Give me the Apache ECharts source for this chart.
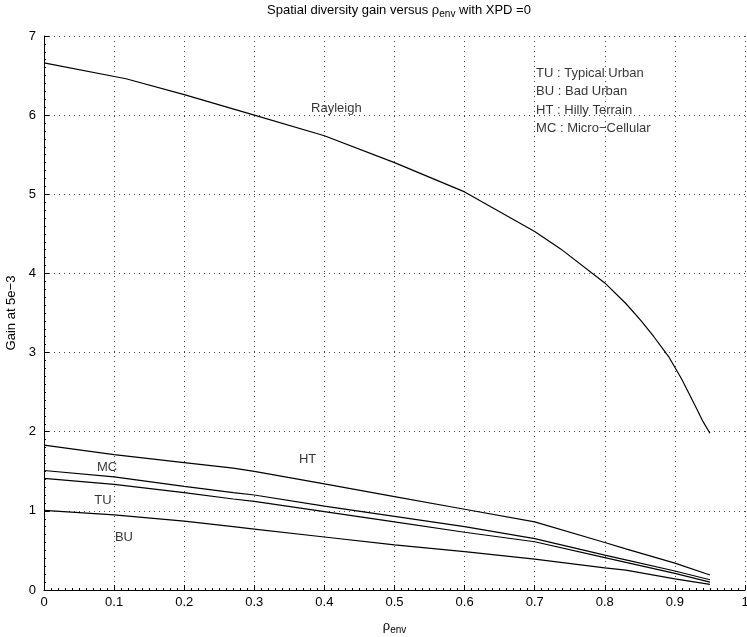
<!DOCTYPE html>
<html>
<head>
<meta charset="utf-8">
<script src="https://cdn.jsdelivr.net/npm/echarts@6/dist/echarts.min.js"></script>
<style>html,body{margin:0;padding:0;background:#fff}#c{width:747px;height:637px}</style>
</head>
<body>
<div id="c"></div>
<script>
// x positions and values
const rayleighX = [0, 0.117, 0.2, 0.3, 0.4, 0.5, 0.6, 0.7, 0.737, 0.8, 0.83, 0.851, 0.87, 0.891, 0.91, 0.93, 0.94, 0.95];
const rayleighY = [6.66, 6.46, 6.26, 6.0, 5.74, 5.40, 5.03, 4.53, 4.31, 3.88, 3.62, 3.41, 3.20, 2.95, 2.66, 2.31, 2.13, 1.98];

const lowX = [0, 0.1, 0.2, 0.27, 0.3, 0.4, 0.5, 0.6, 0.7, 0.8, 0.83, 0.9, 0.95];
const htY  = [1.83, 1.71, 1.61, 1.54, 1.50, 1.34, 1.18, 1.02, 0.86, 0.60, 0.52, 0.34, 0.19];
const mcY  = [1.51, 1.43, 1.31, 1.23, 1.20, 1.06, 0.93, 0.80, 0.65, 0.44, 0.38, 0.24, 0.13];
const tuY  = [1.41, 1.335, 1.23, 1.15, 1.12, 0.99, 0.86, 0.73, 0.61, 0.41, 0.35, 0.21, 0.10];
const buY  = [1.005, 0.95, 0.87, 0.80, 0.77, 0.67, 0.57, 0.485, 0.39, 0.28, 0.25, 0.14, 0.07];

const xTicks = [0, 0.1, 0.2, 0.3, 0.4, 0.5, 0.6, 0.7, 0.8, 0.9, 1];
const yTicks = [0, 1, 2, 3, 4, 5, 6, 7];

// in-plot annotations (data coordinates)
const curveLabels = [
  {name: 'Rayleigh', x: 0.417, y: 6.08},
  {name: 'HT', x: 0.376, y: 1.65},
  {name: 'MC', x: 0.09, y: 1.55},
  {name: 'TU', x: 0.084, y: 1.13},
  {name: 'BU', x: 0.114, y: 0.66}
];
const keyLines = [
  {name: 'TU : Typical Urban', x: 0.702, y: 6.53},
  {name: 'BU : Bad Urban', x: 0.702, y: 6.30},
  {name: 'HT : Hilly Terrain', x: 0.702, y: 6.06},
  {name: 'MC : Micro\u2212Cellular', x: 0.702, y: 5.83}
];

const FONT = 'Liberation Sans, Arial, Helvetica, sans-serif';
const zip = (xs, ys) => xs.map((x, i) => [x, ys[i]]);

function lineSeries(name, xs, ys) {
  return {
    name, type: 'line', data: zip(xs, ys), showSymbol: false, symbol: 'none',
    lineStyle: {color: '#000', width: 1.2}, animation: false, z: 3
  };
}

const chart = echarts.init(document.getElementById('c'), null, {renderer: 'canvas'});
chart.setOption({
  backgroundColor: '#fff',
  animation: false,
  title: {
    text: '{a|Spatial diversity gain versus \u03c1}{s|env}{a| with XPD =0}',
    left: 394, top: -4, textAlign: 'center',
    textStyle: {
      fontWeight: 'normal',
      rich: {
        a: {fontFamily: FONT, fontSize: 13, color: '#000', fontWeight: 'normal'},
        s: {fontFamily: FONT, fontSize: 10, color: '#000', fontWeight: 'normal', verticalAlign: 'bottom', padding: [8, 0, 0, 0]}
      }
    }
  },
  grid: {left: 44, right: 2, top: 36, bottom: 47, containLabel: false, outerBoundsMode: 'none'},
  xAxis: {
    type: 'value', min: 0, max: 1, interval: 0.1,
    name: '{a|\u03c1}{s|env}', nameLocation: 'middle', nameGap: 27,
    nameTextStyle: {
      rich: {
        a: {fontFamily: FONT, fontSize: 13, color: '#000'},
        s: {fontFamily: FONT, fontSize: 10, color: '#000', padding: [8, 0, 0, 0]}
      }
    },
    axisLine: {show: true, lineStyle: {color: '#000', width: 1}},
    axisTick: {show: true, inside: true, length: 5, lineStyle: {color: '#000'}},
    minorTick: {show: true, splitNumber: 10, length: 2, lineStyle: {color: '#000'}},
    axisLabel: {color: '#000', fontFamily: FONT, fontSize: 13, margin: 6,
      formatter: v => String(+v.toFixed(1))},
    splitLine: {show: true, lineStyle: {color: '#444', type: [1, 4], width: 1}}
  },
  yAxis: {
    type: 'value', min: 0, max: 7, interval: 1,
    name: 'Gain at 5e\u22123', nameLocation: 'middle', nameGap: 25,
    nameTextStyle: {fontFamily: FONT, fontSize: 13, color: '#000'},
    axisLine: {show: true, lineStyle: {color: '#000', width: 1}},
    axisTick: {show: true, inside: true, length: 5, lineStyle: {color: '#000'}},
    minorTick: {show: true, splitNumber: 10, length: 2, lineStyle: {color: '#000'}},
    axisLabel: {color: '#000', fontFamily: FONT, fontSize: 13, margin: 8},
    splitLine: {show: true, lineStyle: {color: '#444', type: [1, 4], width: 1}}
  },
  series: [
    lineSeries('Rayleigh', rayleighX, rayleighY),
    lineSeries('HT', lowX, htY),
    lineSeries('MC', lowX, mcY),
    lineSeries('TU', lowX, tuY),
    lineSeries('BU', lowX, buY),
    {
      type: 'scatter', symbolSize: 0, silent: true, animation: false, z: 4,
      data: curveLabels.map(d => ({value: [d.x, d.y], name: d.name})),
      label: {show: true, position: 'inside', formatter: p => p.name,
        color: '#000', fontFamily: FONT, fontSize: 13}
    },
    {
      type: 'scatter', symbolSize: 0, silent: true, animation: false, z: 4,
      data: keyLines.map(d => ({value: [d.x, d.y], name: d.name})),
      label: {show: true, position: 'right', distance: 0, align: 'left', formatter: p => p.name,
        color: '#000', fontFamily: FONT, fontSize: 13}
    }
  ]
});
</script>
</body>
</html>
